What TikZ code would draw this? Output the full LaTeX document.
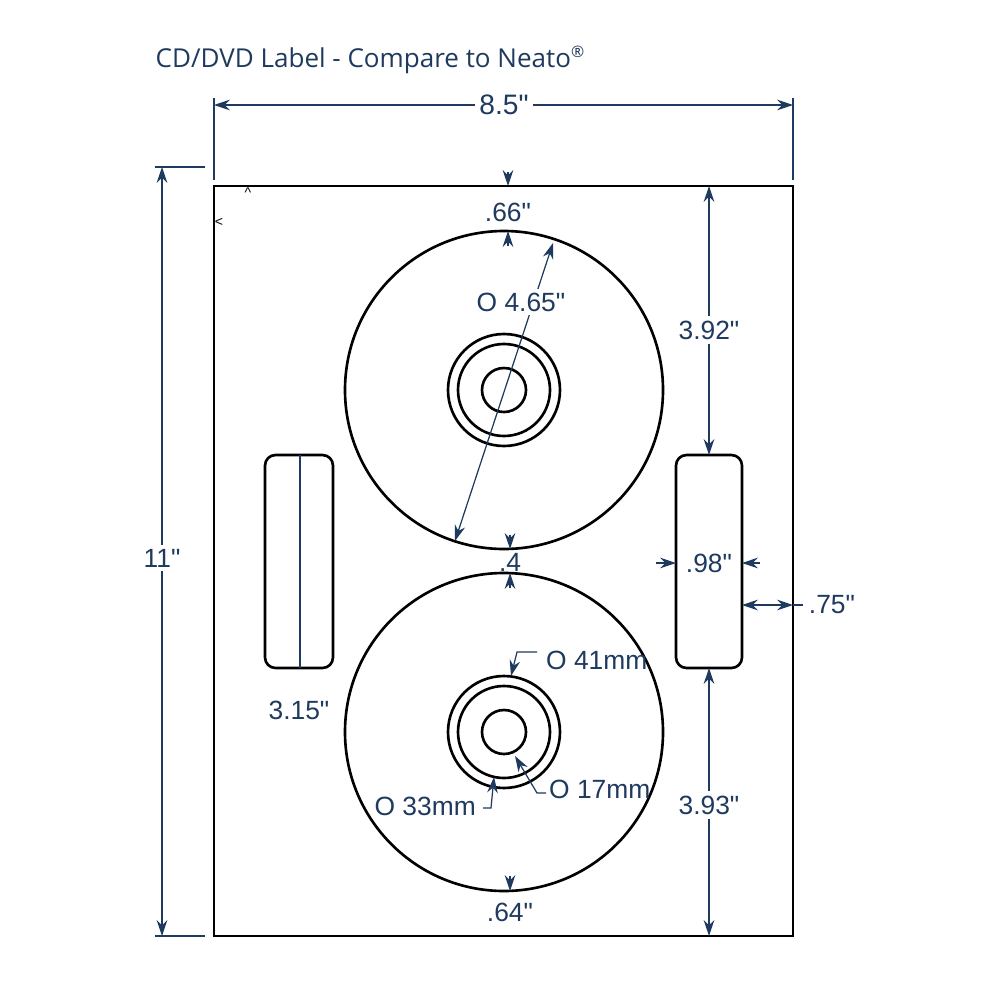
\documentclass[tikz,border=0pt]{standalone}
\usepackage{fontspec}
\setmainfont{Liberation Sans}[Ligatures=TeXOff]
\newfontfamily\titlefont{Open Sans}
\usetikzlibrary{arrows.meta}
\definecolor{navy}{HTML}{1F3A5F}
\newcommand\qq{\symbol{34}}
\begin{document}
\begin{tikzpicture}[x=0.01cm,y=-0.01cm,
  dim/.style={draw=navy,line width=0.35pt},
  arr/.style={dim,-{Stealth[length=4.5pt,width=3pt]}},
  arrs/.style={dim,{Stealth[length=4.5pt,width=3pt]}-{Stealth[length=4.5pt,width=3pt]}},
  lbl/.style={text=navy,font=\fontsize{7.5pt}{8pt}\selectfont,inner sep=1pt},
  obj/.style={draw=black,line width=0.75pt}]
\useasboundingbox[fill=white] (0,0) rectangle (1000,1000);
\node[anchor=west,text=navy,font=\titlefont\fontsize{7.4pt}{8pt}\selectfont,inner sep=0] (title) at (155,60) {CD/DVD Label - Compare to Neato\textsuperscript{\fontsize{4.5pt}{5pt}\selectfont ®}};
% page
\draw[obj] (214,186) rectangle (793,936);
\node[font=\fontsize{4pt}{4pt}\selectfont,inner sep=0] (ca) at (248,193) {\^{}};
\node[font=\fontsize{4pt}{4pt}\selectfont,inner sep=0] (cb) at (219,222) {<};
% discs
\foreach \cy/\n in {390/t,732/b}{
  \draw[obj] (504,\cy) circle (159);
  \draw[obj] (504,\cy) circle (56);
  \draw[obj] (504,\cy) circle (46);
  \draw[obj] (504,\cy) circle (22);
}
\draw[obj,rounded corners=3pt] (265,455) rectangle (333,668);
\draw[obj,rounded corners=3pt] (676,455) rectangle (742,668);
% 8.5
\draw[dim] (214,98) -- (214,180);
\draw[dim] (793,98) -- (793,180);
\node[lbl,font=\fontsize{8pt}{9pt}\selectfont] (w) at (504,105) {8.5\qq};
\draw[arr] (w.west) -- (214,105);
\draw[arr] (w.east) -- (793,105);
% 11
\draw[dim] (155,167) -- (205,167);
\draw[dim] (155,936) -- (205,936);
\node[lbl] (h) at (162,558) {11\qq};
\draw[arr] (h.north) -- (162,167);
\draw[arr] (h.south) -- (162,936);
% .66
\draw[arr] (508,172) -- (508,186);
\draw[arr] (508,246) -- (508,231);
\node[lbl] (a) at (508,212) {.66\qq};
% diameter
\coordinate (d1) at (553,243);
\coordinate (d2) at (455,541);
\draw[arrs] (d1) -- (d2);
\node[lbl,fill=white] (dl) at (521,302) {O 4.65\qq};
% 3.92 / 3.93
\node[lbl,fill=white] (r1) at (709,330) {3.92\qq};
\draw[arr] (r1.north) -- (709,186);
\draw[arr] (r1.south) -- (709,455);
\node[lbl,fill=white] (r2) at (709,805) {3.93\qq};
\draw[arr] (r2.north) -- (709,668);
\draw[arr] (r2.south) -- (709,936);
% 3.15
\draw[dim] (300,455) -- (300,668);
\node[lbl] (l1) at (299,710) {3.15\qq};
% .98
\node[lbl] (n98) at (709,563) {.98\qq};
\draw[arr] (656,563) -- (676,563);
\draw[arr] (760,563) -- (742,563);
% .75
\draw[arrs] (742,605) -- (793,605);
\draw[dim] (793,605) -- (803,605);
\node[lbl] (n75) at (832,605) {.75\qq};
% .4
\draw[arr] (510,535) -- (510,549);
\draw[arr] (510,588) -- (510,573);
\node[lbl] (n4) at (510,562) {.4};
% .64
\draw[arr] (510,876) -- (510,891);
\node[lbl] (n64) at (510,912) {.64\qq};
% mm labels
\node[lbl,anchor=west] (m41) at (542,660) {O 41mm};
\draw[arr] (537,652) -- (517,652) -- (511,676);
\node[lbl,anchor=west] (m17) at (545,789) {O 17mm};
\draw[arr] (546,793) -- (537,793) -- (515,756);
\node[lbl,anchor=east] (m33) at (480,806) {O 33mm};
\draw[arr] (483,808) -- (491,808) -- (494,777);
\end{tikzpicture}
\end{document}
